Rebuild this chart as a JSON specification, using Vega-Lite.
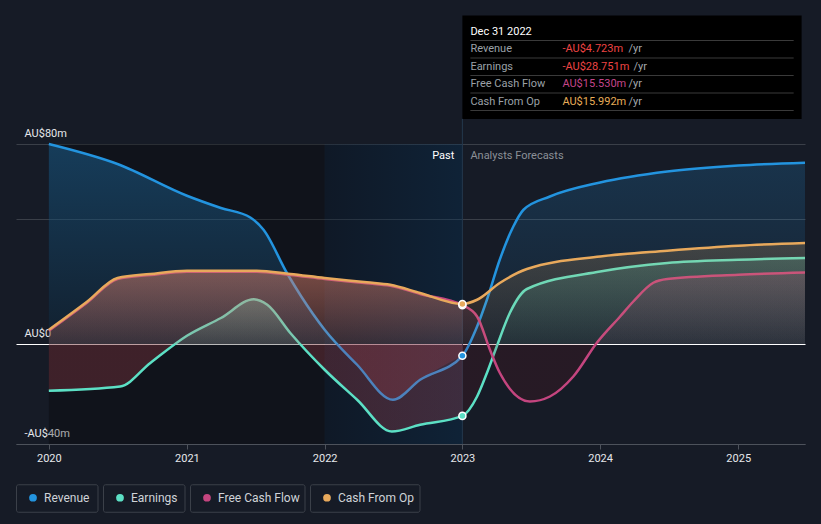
{
  "$schema": "https://vega.github.io/schema/vega-lite/v6.json",
  "width": 789,
  "height": 300,
  "autosize": {"type": "none"},
  "padding": {"left": 16, "top": 144, "right": 16, "bottom": 80},
  "background": "#161b26",
  "config": {
    "view": {"stroke": null}, "font": "Roboto",
    "legend": {
      "title": null, "orient": "none", "legendX": 0, "legendY": 340, "direction": "horizontal", "columns": 4,
      "symbolType": "circle", "symbolSize": 60, "symbolStrokeWidth": 0, "symbolOpacity": 1,
      "labelColor": "#cfd3d8", "labelFont": "Roboto", "labelFontSize": 12,
      "clipHeight": 27, "columnPadding": 4, "symbolOffset": 11, "labelOffset": 5,
      "padding": 0, "offset": 0
    }
  },
  "datasets": {
    "series": [
      {"date": "2020-01-01", "series": "Revenue", "value": 80},
      {"date": "2020-07-01", "series": "Revenue", "value": 72},
      {"date": "2021-01-01", "series": "Revenue", "value": 59.3},
      {"date": "2021-04-01", "series": "Revenue", "value": 54.4},
      {"date": "2021-06-18", "series": "Revenue", "value": 50.6},
      {"date": "2021-07-23", "series": "Revenue", "value": 45.7},
      {"date": "2021-09-23", "series": "Revenue", "value": 28.4},
      {"date": "2021-10-31", "series": "Revenue", "value": 19},
      {"date": "2022-01-01", "series": "Revenue", "value": 5.7},
      {"date": "2022-03-28", "series": "Revenue", "value": -8.3},
      {"date": "2022-07-01", "series": "Revenue", "value": -22.3},
      {"date": "2022-09-11", "series": "Revenue", "value": -14.3},
      {"date": "2023-01-01", "series": "Revenue", "value": -4.723},
      {"date": "2023-02-09", "series": "Revenue", "value": 7},
      {"date": "2023-03-07", "series": "Revenue", "value": 17.7},
      {"date": "2023-04-10", "series": "Revenue", "value": 33.7},
      {"date": "2023-05-16", "series": "Revenue", "value": 47},
      {"date": "2023-06-12", "series": "Revenue", "value": 53.7},
      {"date": "2023-08-21", "series": "Revenue", "value": 59},
      {"date": "2024-01-01", "series": "Revenue", "value": 64.6},
      {"date": "2024-06-27", "series": "Revenue", "value": 69},
      {"date": "2025-01-01", "series": "Revenue", "value": 71.4},
      {"date": "2025-06-27", "series": "Revenue", "value": 72.5},

      {"date": "2020-01-01", "series": "Earnings", "value": -18.7},
      {"date": "2020-07-08", "series": "Earnings", "value": -17},
      {"date": "2020-09-26", "series": "Earnings", "value": -7.6},
      {"date": "2021-01-01", "series": "Earnings", "value": 3.3},
      {"date": "2021-04-01", "series": "Earnings", "value": 10.4},
      {"date": "2021-06-27", "series": "Earnings", "value": 17.9},
      {"date": "2021-08-02", "series": "Earnings", "value": 15.7},
      {"date": "2021-10-02", "series": "Earnings", "value": 4.4},
      {"date": "2022-01-01", "series": "Earnings", "value": -10.3},
      {"date": "2022-03-28", "series": "Earnings", "value": -22.3},
      {"date": "2022-06-28", "series": "Earnings", "value": -35},
      {"date": "2022-09-11", "series": "Earnings", "value": -32.3},
      {"date": "2023-01-01", "series": "Earnings", "value": -28.751},
      {"date": "2023-02-09", "series": "Earnings", "value": -21},
      {"date": "2023-03-07", "series": "Earnings", "value": -11.6},
      {"date": "2023-04-02", "series": "Earnings", "value": -1},
      {"date": "2023-05-07", "series": "Earnings", "value": 12.5},
      {"date": "2023-06-21", "series": "Earnings", "value": 22},
      {"date": "2024-01-01", "series": "Earnings", "value": 29},
      {"date": "2024-06-27", "series": "Earnings", "value": 32.4},
      {"date": "2025-01-01", "series": "Earnings", "value": 33.7},
      {"date": "2025-06-27", "series": "Earnings", "value": 34.4},

      {"date": "2020-01-01", "series": "Free Cash Flow", "value": 5.3},
      {"date": "2020-04-12", "series": "Free Cash Flow", "value": 16.6},
      {"date": "2020-07-01", "series": "Free Cash Flow", "value": 26},
      {"date": "2020-09-26", "series": "Free Cash Flow", "value": 27.6},
      {"date": "2021-01-01", "series": "Free Cash Flow", "value": 28.9},
      {"date": "2021-07-05", "series": "Free Cash Flow", "value": 28.9},
      {"date": "2021-10-02", "series": "Free Cash Flow", "value": 27.6},
      {"date": "2022-01-01", "series": "Free Cash Flow", "value": 26},
      {"date": "2022-04-23", "series": "Free Cash Flow", "value": 24.3},
      {"date": "2022-06-24", "series": "Free Cash Flow", "value": 23.3},
      {"date": "2022-09-11", "series": "Free Cash Flow", "value": 20},
      {"date": "2023-01-01", "series": "Free Cash Flow", "value": 15.53},
      {"date": "2023-02-09", "series": "Free Cash Flow", "value": 11},
      {"date": "2023-03-15", "series": "Free Cash Flow", "value": -2.3},
      {"date": "2023-04-10", "series": "Free Cash Flow", "value": -11.5},
      {"date": "2023-06-29", "series": "Free Cash Flow", "value": -23},
      {"date": "2023-08-21", "series": "Free Cash Flow", "value": -21},
      {"date": "2023-10-22", "series": "Free Cash Flow", "value": -13},
      {"date": "2023-12-23", "series": "Free Cash Flow", "value": 0.4},
      {"date": "2024-02-23", "series": "Free Cash Flow", "value": 11},
      {"date": "2024-03-29", "series": "Free Cash Flow", "value": 17},
      {"date": "2024-05-21", "series": "Free Cash Flow", "value": 24.5},
      {"date": "2024-06-27", "series": "Free Cash Flow", "value": 26},
      {"date": "2025-01-01", "series": "Free Cash Flow", "value": 27.7},
      {"date": "2025-06-27", "series": "Free Cash Flow", "value": 28.6},

      {"date": "2020-01-01", "series": "Cash From Op", "value": 5.7},
      {"date": "2020-04-12", "series": "Cash From Op", "value": 17},
      {"date": "2020-07-01", "series": "Cash From Op", "value": 26.4},
      {"date": "2020-09-26", "series": "Cash From Op", "value": 28},
      {"date": "2021-01-01", "series": "Cash From Op", "value": 29.3},
      {"date": "2021-07-05", "series": "Cash From Op", "value": 29.3},
      {"date": "2021-10-02", "series": "Cash From Op", "value": 28},
      {"date": "2022-01-01", "series": "Cash From Op", "value": 26.4},
      {"date": "2022-04-23", "series": "Cash From Op", "value": 24.7},
      {"date": "2022-06-24", "series": "Cash From Op", "value": 23.7},
      {"date": "2022-09-11", "series": "Cash From Op", "value": 20.4},
      {"date": "2023-01-01", "series": "Cash From Op", "value": 15.992},
      {"date": "2023-02-09", "series": "Cash From Op", "value": 17.7},
      {"date": "2023-04-10", "series": "Cash From Op", "value": 24.4},
      {"date": "2023-06-21", "series": "Cash From Op", "value": 30},
      {"date": "2024-01-01", "series": "Cash From Op", "value": 35},
      {"date": "2024-06-27", "series": "Cash From Op", "value": 37.3},
      {"date": "2025-01-01", "series": "Cash From Op", "value": 39.3},
      {"date": "2025-06-27", "series": "Cash From Op", "value": 40.4}
    ],
    "tooltip": [
      {"row": "Header", "label": "Dec 31 2022"},
      {"row": "Revenue", "label": "Revenue", "value": "-AU$4.723m", "num": -4.723},
      {"row": "Earnings", "label": "Earnings", "value": "-AU$28.751m", "num": -28.751},
      {"row": "Free Cash Flow", "label": "Free Cash Flow", "value": "AU$15.530m", "num": 15.53},
      {"row": "Cash From Op", "label": "Cash From Op", "value": "AU$15.992m", "num": 15.992}
    ]
  },
  "layer": [
    {
      "layer": [
        {
          "data": {"values": [{"start": "2020-01-01", "end": "2022-01-01"}]},
          "mark": {"type": "rect", "color": "rgba(0,0,0,0.27)"},
          "encoding": {
            "x": {
              "field": "start", "type": "temporal", "title": null,
              "scale": {"type": "utc", "domain": [{"year": 2019, "month": 10, "date": 6, "utc": true}, {"year": 2025, "month": 6, "date": 27, "utc": true}]},
              "axis": {
                "values": [
                  {"year": 2020, "month": 1, "date": 1, "utc": true},
                  {"year": 2021, "month": 1, "date": 1, "utc": true},
                  {"year": 2022, "month": 1, "date": 1, "utc": true},
                  {"year": 2023, "month": 1, "date": 1, "utc": true},
                  {"year": 2024, "month": 1, "date": 1, "utc": true},
                  {"year": 2025, "month": 1, "date": 1, "utc": true}
                ],
                "format": "%Y", "grid": false,
                "domainColor": "#4d525b", "tickColor": "#4d525b", "tickSize": 5,
                "labelColor": "#e6e8eb", "labelFontSize": 11, "labelPadding": 3,
                "labelFlush": false, "labelFont": "Roboto"
              }
            },
            "x2": {"field": "end"}
          }
        },
        {
          "data": {"values": [{"start": "2022-01-01", "end": "2023-01-01"}]},
          "mark": {"type": "rect", "color": {"gradient": "linear", "x1": 0, "y1": 0, "x2": 1, "y2": 0,
            "stops": [{"offset": 0, "color": "rgba(0,20,40,0.32)"}, {"offset": 1, "color": "rgba(0,50,90,0.32)"}]}},
          "encoding": {"x": {"field": "start", "type": "temporal", "title": null}, "x2": {"field": "end"}}
        },
        {
          "data": {"values": [{}]},
          "mark": {"type": "rule", "color": "#24384d", "strokeWidth": 1},
          "encoding": {
            "x": {"datum": {"year": 2023, "month": 1, "date": 1, "utc": true}, "type": "temporal"},
            "y": {"datum": -40, "type": "quantitative"},
            "y2": {"datum": 90.2}
          }
        },
        {
          "data": {"name": "series"},
          "transform": [{"filter": {"and": [{"field": "series", "equal": "Revenue"}, {"field": "date", "lte": {"year": 2023, "month": 1, "date": 1, "utc": true}}]}}],
          "mark": {"type": "area", "interpolate": "monotone", "opacity": 1, "color": {"gradient": "linear", "x1": 0, "y1": 0, "x2": 0, "y2": 1,
            "stops": [{"offset": 0, "color": "rgba(35,148,223,0.32)"}, {"offset": 0.781, "color": "rgba(35,148,223,0.1)"}, {"offset": 0.782, "color": "rgba(200,75,85,0.2)"}, {"offset": 1, "color": "rgba(200,75,85,0.2)"}]}},
          "encoding": {
            "x": {"field": "date", "type": "temporal", "title": null},
            "y": {
              "field": "value", "type": "quantitative", "title": null,
              "scale": {"domain": [-40, 80], "nice": false, "zero": false},
              "axis": {
                "values": [-40, 0, 50, 80],
                "labelExpr": "datum.value == 80 ? 'AU$80m' : datum.value == 0 ? 'AU$0' : datum.value == -40 ? '-AU$40m' : ''",
                "domain": false, "ticks": false, "grid": true,
                "gridColor": {"condition": {"test": "datum.value === 0", "value": "#ffffff"}, "value": "#3a3f48"},
                "gridWidth": 1,
                "labelAlign": "left", "labelBaseline": "alphabetic", "labelPadding": -8, "labelOffset": -8,
                "labelColor": "#e6e8eb", "labelFontSize": 11, "labelFont": "Roboto",
                "labelFlush": false, "labelOverlap": false, "labelBound": false
              }
            },
            "y2": {"datum": 0}
          }
        },
        {
          "data": {"name": "series"},
          "transform": [{"filter": {"and": [{"field": "series", "equal": "Revenue"}, {"field": "date", "gte": {"year": 2023, "month": 1, "date": 1, "utc": true}}]}}],
          "mark": {"type": "area", "interpolate": "monotone", "opacity": 1, "color": {"gradient": "linear", "x1": 0, "y1": 0, "x2": 0, "y2": 1,
            "stops": [{"offset": 0, "color": "rgba(35,148,223,0.2)"}, {"offset": 0.938, "color": "rgba(35,148,223,0.05)"}, {"offset": 0.939, "color": "rgba(140,20,30,0.14)"}, {"offset": 1, "color": "rgba(140,20,30,0.14)"}]}},
          "encoding": {"x": {"field": "date", "type": "temporal"}, "y": {"field": "value", "type": "quantitative"}, "y2": {"datum": 0}}
        },
        {
          "data": {"name": "series"},
          "transform": [{"filter": {"field": "series", "equal": "Revenue"}}],
          "mark": {"type": "line", "interpolate": "monotone", "strokeWidth": 2.5},
          "encoding": {
            "x": {"field": "date", "type": "temporal"}, "y": {"field": "value", "type": "quantitative"},
            "color": {"field": "series", "type": "nominal",
              "scale": {"domain": ["Revenue", "Earnings", "Free Cash Flow", "Cash From Op"], "range": ["#2394df", "#5ce0c5", "#c4457f", "#e8a95c"]},
              "legend": {
                "symbolType": "circle",
                "encode": {
                  "symbols": {"update": {"fill": {"scale": "color", "field": "value"}, "stroke": {"value": "transparent"}, "strokeWidth": {"value": 0}, "opacity": {"value": 1}}},
                  "entries": {"update": {
                    "stroke": {"value": "#3b4049"}, "strokeWidth": {"value": 1}, "cornerRadius": {"value": 2},
                    "width": {"signal": "[81,81,114,109][datum.index]"}
                  }}
                }
              }
            }
          }
        },
        {
          "data": {"name": "series"},
          "transform": [{"filter": {"and": [{"field": "series", "equal": "Earnings"}, {"field": "date", "lte": {"year": 2023, "month": 1, "date": 1, "utc": true}}]}}],
          "mark": {"type": "area", "interpolate": "monotone", "opacity": 1, "color": {"gradient": "linear", "x1": 0, "y1": 0, "x2": 0, "y2": 1,
            "stops": [{"offset": 0, "color": "rgba(92,224,197,0.32)"}, {"offset": 0.339, "color": "rgba(92,224,197,0.1)"}, {"offset": 0.34, "color": "rgba(200,75,85,0.25)"}, {"offset": 1, "color": "rgba(200,75,85,0.25)"}]}},
          "encoding": {"x": {"field": "date", "type": "temporal"}, "y": {"field": "value", "type": "quantitative"}, "y2": {"datum": 0}}
        },
        {
          "data": {"name": "series"},
          "transform": [{"filter": {"and": [{"field": "series", "equal": "Earnings"}, {"field": "date", "gte": {"year": 2023, "month": 1, "date": 1, "utc": true}}]}}],
          "mark": {"type": "area", "interpolate": "monotone", "opacity": 1, "color": {"gradient": "linear", "x1": 0, "y1": 0, "x2": 0, "y2": 1,
            "stops": [{"offset": 0, "color": "rgba(92,224,197,0.2)"}, {"offset": 0.544, "color": "rgba(92,224,197,0.05)"}, {"offset": 0.545, "color": "rgba(140,20,30,0.14)"}, {"offset": 1, "color": "rgba(140,20,30,0.14)"}]}},
          "encoding": {"x": {"field": "date", "type": "temporal"}, "y": {"field": "value", "type": "quantitative"}, "y2": {"datum": 0}}
        },
        {
          "data": {"name": "series"},
          "transform": [{"filter": {"field": "series", "equal": "Earnings"}}],
          "mark": {"type": "line", "interpolate": "monotone", "strokeWidth": 2.5},
          "encoding": {"x": {"field": "date", "type": "temporal"}, "y": {"field": "value", "type": "quantitative"},
            "color": {"field": "series", "type": "nominal"}}
        },
        {
          "data": {"name": "series"},
          "transform": [{"filter": {"and": [{"field": "series", "equal": "Free Cash Flow"}, {"field": "date", "lte": {"year": 2023, "month": 1, "date": 1, "utc": true}}]}}],
          "mark": {"type": "area", "interpolate": "monotone", "opacity": 1, "color": {"gradient": "linear", "x1": 0, "y1": 0, "x2": 0, "y2": 1,
            "stops": [{"offset": 0, "color": "rgba(196,69,127,0.3)"}, {"offset": 1, "color": "rgba(196,69,127,0.1)"}]}},
          "encoding": {"x": {"field": "date", "type": "temporal"}, "y": {"field": "value", "type": "quantitative"}, "y2": {"datum": 0}}
        },
        {
          "data": {"name": "series"},
          "transform": [{"filter": {"and": [{"field": "series", "equal": "Free Cash Flow"}, {"field": "date", "gte": {"year": 2023, "month": 1, "date": 1, "utc": true}}]}}],
          "mark": {"type": "area", "interpolate": "monotone", "opacity": 1, "color": {"gradient": "linear", "x1": 0, "y1": 0, "x2": 0, "y2": 1,
            "stops": [{"offset": 0, "color": "rgba(196,69,127,0.2)"}, {"offset": 0.553, "color": "rgba(196,69,127,0.05)"}, {"offset": 0.554, "color": "rgba(140,20,30,0.14)"}, {"offset": 1, "color": "rgba(140,20,30,0.14)"}]}},
          "encoding": {"x": {"field": "date", "type": "temporal"}, "y": {"field": "value", "type": "quantitative"}, "y2": {"datum": 0}}
        },
        {
          "data": {"name": "series"},
          "transform": [{"filter": {"field": "series", "equal": "Free Cash Flow"}}],
          "mark": {"type": "line", "interpolate": "monotone", "strokeWidth": 2.5},
          "encoding": {"x": {"field": "date", "type": "temporal"}, "y": {"field": "value", "type": "quantitative"},
            "color": {"field": "series", "type": "nominal"}}
        },
        {
          "data": {"name": "series"},
          "transform": [{"filter": {"and": [{"field": "series", "equal": "Cash From Op"}, {"field": "date", "lte": {"year": 2023, "month": 1, "date": 1, "utc": true}}]}}],
          "mark": {"type": "area", "interpolate": "monotone", "opacity": 1, "color": {"gradient": "linear", "x1": 0, "y1": 0, "x2": 0, "y2": 1,
            "stops": [{"offset": 0, "color": "rgba(232,169,92,0.3)"}, {"offset": 1, "color": "rgba(232,169,92,0.1)"}]}},
          "encoding": {"x": {"field": "date", "type": "temporal"}, "y": {"field": "value", "type": "quantitative"}, "y2": {"datum": 0}}
        },
        {
          "data": {"name": "series"},
          "transform": [{"filter": {"and": [{"field": "series", "equal": "Cash From Op"}, {"field": "date", "gte": {"year": 2023, "month": 1, "date": 1, "utc": true}}]}}],
          "mark": {"type": "area", "interpolate": "monotone", "opacity": 1, "color": {"gradient": "linear", "x1": 0, "y1": 0, "x2": 0, "y2": 1,
            "stops": [{"offset": 0, "color": "rgba(232,169,92,0.2)"}, {"offset": 1, "color": "rgba(232,169,92,0.05)"}]}},
          "encoding": {"x": {"field": "date", "type": "temporal"}, "y": {"field": "value", "type": "quantitative"}, "y2": {"datum": 0}}
        },
        {
          "data": {"name": "series"},
          "transform": [{"filter": {"field": "series", "equal": "Cash From Op"}}],
          "mark": {"type": "line", "interpolate": "monotone", "strokeWidth": 2.5},
          "encoding": {"x": {"field": "date", "type": "temporal"}, "y": {"field": "value", "type": "quantitative"},
            "color": {"field": "series", "type": "nominal"}}
        },
        {
          "data": {"name": "series"},
          "transform": [{"filter": {"field": "date", "equal": {"year": 2023, "month": 1, "date": 1, "utc": true}}}],
          "mark": {"type": "point", "filled": true, "size": 50, "stroke": "#ffffff", "strokeWidth": 1.5, "opacity": 1},
          "encoding": {
            "x": {"field": "date", "type": "temporal"}, "y": {"field": "value", "type": "quantitative"},
            "color": {"field": "series", "type": "nominal"}
          }
        },
        {
          "data": {"values": [{}]},
          "mark": {"type": "text", "text": "Past", "align": "right", "baseline": "middle", "dx": -8, "dy": 12, "fontSize": 11, "color": "#ffffff"},
          "encoding": {"x": {"datum": {"year": 2023, "month": 1, "date": 1, "utc": true}, "type": "temporal"}, "y": {"datum": 80, "type": "quantitative"}}
        },
        {
          "data": {"values": [{}]},
          "mark": {"type": "text", "text": "Analysts Forecasts", "align": "left", "baseline": "middle", "dx": 8, "dy": 12, "fontSize": 11, "color": "#8b9097"},
          "encoding": {"x": {"datum": {"year": 2023, "month": 1, "date": 1, "utc": true}, "type": "temporal"}, "y": {"datum": 80, "type": "quantitative"}}
        }
      ]
    },
    {
      "layer": [
        {
          "data": {"values": [{}]},
          "mark": {"type": "rect", "color": "#000000", "yOffset": -16.1, "y2Offset": 17.5},
          "encoding": {
            "x": {"datum": {"year": 2023, "month": 1, "date": 1, "utc": true}, "type": "temporal"},
            "x2": {"datum": {"year": 2025, "month": 6, "date": 18, "utc": true}},
            "y": {"datum": "Header", "type": "nominal", "axis": null,
              "scale": {"type": "point", "domain": ["Header", "Revenue", "Earnings", "Free Cash Flow", "Cash From Op"], "range": [-112.5, -42.5], "padding": 0}},
            "y2": {"datum": "Cash From Op"}
          }
        },
        {
          "data": {"name": "tooltip"},
          "mark": {"type": "rule", "color": "#3a3a3a", "strokeWidth": 1, "yOffset": 9, "xOffset": 8},
          "encoding": {
            "x": {"datum": {"year": 2023, "month": 1, "date": 1, "utc": true}, "type": "temporal"},
            "x2": {"datum": {"year": 2025, "month": 5, "date": 28, "utc": true}},
            "y": {"field": "row", "type": "nominal"}
          }
        },
        {
          "data": {"name": "tooltip"},
          "mark": {"type": "text", "align": "left", "baseline": "middle", "dx": 8, "fontSize": 11},
          "encoding": {
            "x": {"datum": {"year": 2023, "month": 1, "date": 1, "utc": true}, "type": "temporal"},
            "y": {"field": "row", "type": "nominal"},
            "text": {"field": "label"},
            "color": {"condition": {"test": "datum.row === 'Header'", "value": "#ffffff"}, "value": "#9ba0a7"}
          }
        },
        {
          "data": {"name": "tooltip"},
          "transform": [{"filter": "datum.row !== 'Header'"}],
          "mark": {"type": "text", "align": "left", "baseline": "middle", "dx": 100, "fontSize": 11},
          "encoding": {
            "x": {"datum": {"year": 2023, "month": 1, "date": 1, "utc": true}, "type": "temporal"},
            "y": {"field": "row", "type": "nominal"},
            "text": {"field": "value"},
            "color": {"condition": [{"test": "datum.num < 0", "value": "#ee4444"}, {"test": "datum.row === 'Free Cash Flow'", "value": "#c4458a"}], "value": "#e8ad58"}
          }
        },
        {
          "data": {"name": "tooltip"},
          "transform": [{"filter": "datum.row !== 'Header' && datum.row !== 'Earnings'"}],
          "mark": {"type": "text", "align": "left", "baseline": "middle", "dx": 166, "fontSize": 11, "color": "#a4a8ae", "text": "/yr"},
          "encoding": {
            "x": {"datum": {"year": 2023, "month": 1, "date": 1, "utc": true}, "type": "temporal"},
            "y": {"field": "row", "type": "nominal"}
          }
        },
        {
          "data": {"name": "tooltip"},
          "transform": [{"filter": "datum.row === 'Earnings'"}],
          "mark": {"type": "text", "align": "left", "baseline": "middle", "dx": 171, "fontSize": 11, "color": "#a4a8ae", "text": "/yr"},
          "encoding": {
            "x": {"datum": {"year": 2023, "month": 1, "date": 1, "utc": true}, "type": "temporal"},
            "y": {"field": "row", "type": "nominal"}
          }
        }
      ]
    }
  ],
  "resolve": {"scale": {"y": "independent"}}
}
